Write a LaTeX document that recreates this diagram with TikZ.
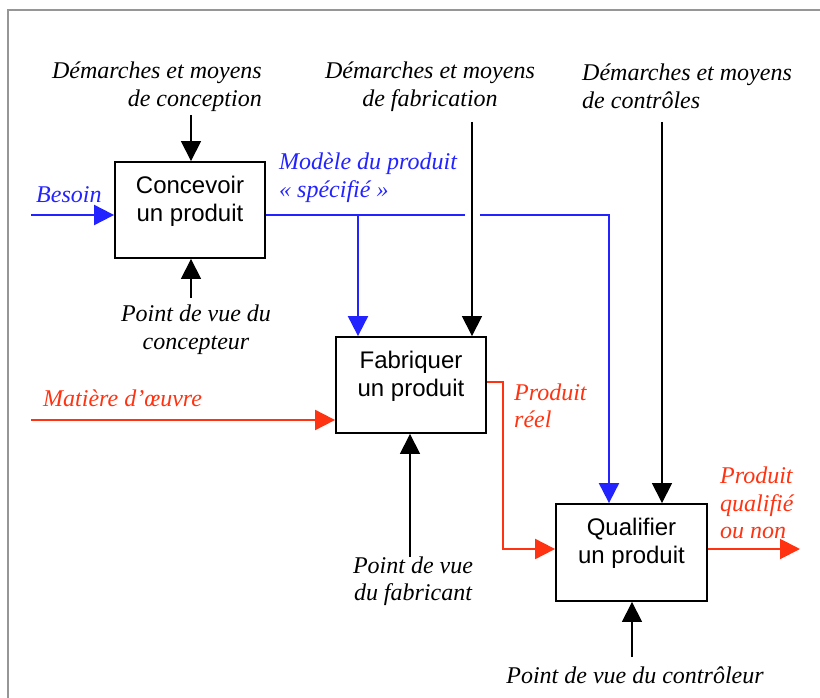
\documentclass[tikz,border=0pt]{standalone}
\usepackage{fontspec}
\setmainfont{Liberation Serif}
\setsansfont{Liberation Sans}
\usetikzlibrary{arrows.meta}
\definecolor{myblue}{RGB}{35,35,255}
\definecolor{myred}{RGB}{255,51,17}
\definecolor{framegray}{RGB}{150,150,150}
\begin{document}
\begin{tikzpicture}[x=1pt,y=-1pt,
  procbox/.style={draw=black,line width=1.8pt,minimum width=150pt,minimum height=96pt,inner sep=0pt},
  boxtext/.style={font=\sffamily\fontsize{24}{28}\selectfont,align=center,inner sep=0pt},
  lbl/.style={font=\itshape\fontsize{24}{27.5}\selectfont,inner sep=0pt},
  tip/.style={-{Triangle[length=20pt,width=20pt]}},
  blueflow/.style={draw=myblue,line width=2pt},
  redflow/.style={draw=myred,line width=2pt},
  ctrl/.style={draw=black,line width=1.2pt}]
\useasboundingbox (0,0) rectangle (820,698);
\draw[framegray,line width=2pt] (820,10) -- (8,10) -- (8,698);

% boxes
\node[procbox] (c) at (190,210) {};
\node[boxtext] (ct) at ([yshift=9pt]c.center) {Concevoir\\un produit};
\node[procbox] (f) at (411,385) {};
\node[boxtext] (ft) at ([yshift=9pt]f.center) {Fabriquer\\un produit};
\node[procbox,minimum width=151pt,minimum height=97pt] (q) at (631.5,552.5) {};
\node[boxtext] (qt) at ([yshift=9pt]q.center) {Qualifier\\un produit};

% labels
\node[lbl,align=right,anchor=east] (l1) at (262,86.5) {Démarches et moyens\\de conception};
\node[lbl,align=center] (l2) at (430,86.5) {Démarches et moyens\\de fabrication};
\node[lbl,align=left,anchor=west] (l3) at (582,86.5) {Démarches et moyens\\de contrôles};
\node[lbl,text=myblue,anchor=west] (lb) at (36,195) {Besoin};
\node[lbl,text=myblue,align=left,anchor=west] (lm) at (279,177.5) {Modèle du produit\\«~spécifié~»};
\node[lbl,align=center] (lpc) at (196,329.5) {Point de vue du\\concepteur};
\node[lbl,text=myred,anchor=west] (lmo) at (43,398) {Matière d’œuvre};
\node[lbl,text=myred,align=left,anchor=west] (lpr) at (514,406) {Produit\\réel};
\node[lbl,text=myred,align=left,anchor=west] (lpq) at (720,503) {Produit\\qualifié\\ou non};
\node[lbl,align=center] (lpf) at (413,581) {Point de vue\\du fabricant};
\node[lbl] (lpk) at (635,675) {Point de vue du contrôleur};

% coordinates
\coordinate (bin) at (31,215);
\coordinate (gapL) at (465,215);
\coordinate (gapR) at (480,215);
\coordinate (bturn) at (609,215);
\coordinate (br1) at (358,215);
\coordinate (tc) at (191,115);
\coordinate (bc) at (191,298);
\coordinate (tf) at (472,122);
\coordinate (tq) at (662,122);
\coordinate (bf) at (410,557);
\coordinate (bq) at (632,657);
\coordinate (min) at (31,420);
\coordinate (rt1) at (503,382);
\coordinate (rt2) at (503,549);
\coordinate (qout) at (800,549);

% blue flows
\draw[blueflow,tip] (bin) -- (bin -| c.west);
\draw[blueflow] (bin -| c.east) -- (gapL);
\draw[blueflow,tip] (gapR) -- (bturn) -- (bturn |- q.north);
\draw[blueflow,tip] (br1) -- (br1 |- f.north);

% controls
\draw[ctrl,tip] (tc) -- (tc |- c.north);
\draw[ctrl,tip] (bc) -- (bc |- c.south);
\draw[ctrl,tip] (tf) -- (tf |- f.north);
\draw[ctrl,tip] (tq) -- (tq |- q.north);
\draw[ctrl,tip] (bf) -- (bf |- f.south);
\draw[ctrl,tip] (bq) -- (bq |- q.south);

% red flows
\draw[redflow,tip] (min) -- (min -| f.west);
\draw[redflow,tip] (rt1 -| f.east) -- (rt1) -- (rt2) -- (rt2 -| q.west);
\draw[redflow,tip] (qout -| q.east) -- (qout);
\end{tikzpicture}
\end{document}
